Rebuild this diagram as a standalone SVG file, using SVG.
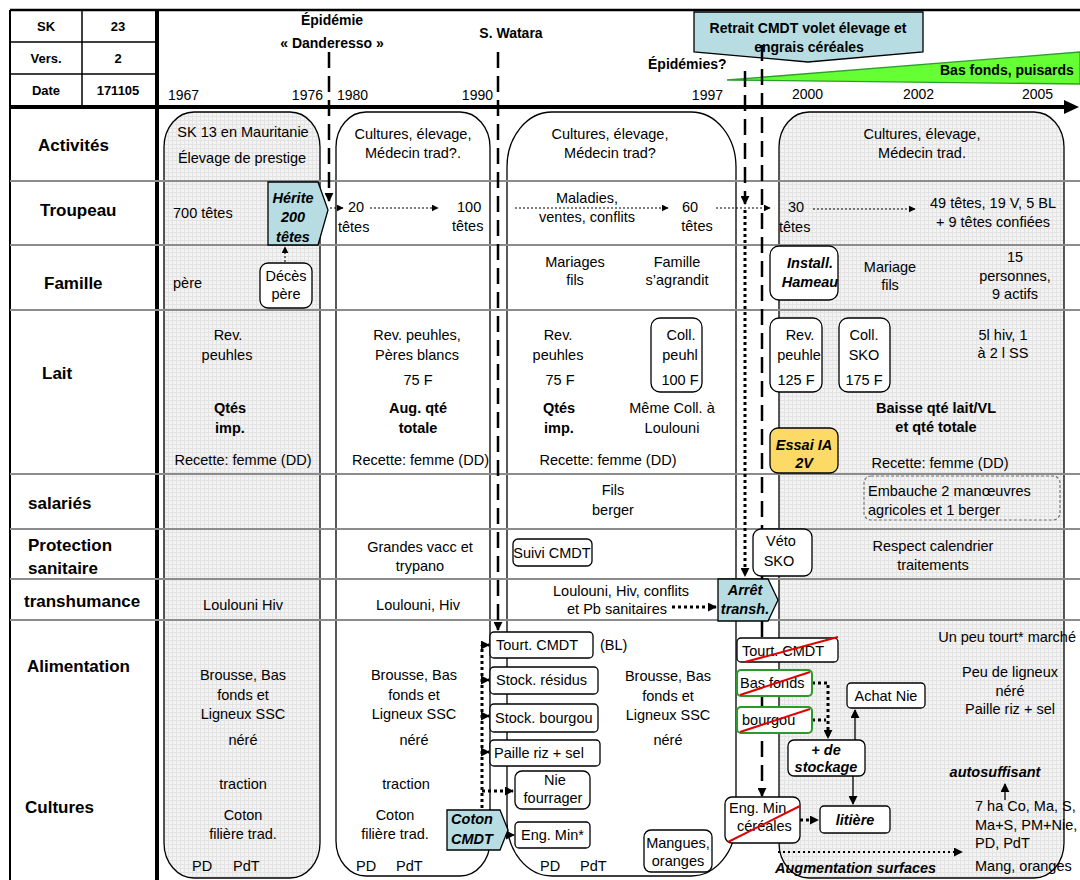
<svg xmlns="http://www.w3.org/2000/svg" width="1080" height="880" viewBox="0 0 1080 880">
<defs>
<style>
text{font-family:"Liberation Sans",Arial,sans-serif;font-size:14.5px;fill:#000}
.m{text-anchor:middle}
.e{text-anchor:end}
.b{font-weight:bold}
.bi{font-weight:bold;font-style:italic}
.lab{font-weight:bold;font-size:17px}
.hd{font-weight:bold;font-size:13px;text-anchor:middle}
.hb{font-weight:bold;font-size:14px}
.row{stroke:#8c8c8c;stroke-width:2}
.box{fill:#fff;stroke:#000;stroke-width:1.3}
.gbox{fill:#fff;stroke:#2a9a2a;stroke-width:2}
.blue{fill:#b7dde3;stroke:#000;stroke-width:1.3}
.dash{stroke:#000;stroke-width:2.5;stroke-dasharray:16 8;fill:none}
.dot{stroke:#000;stroke-width:3;stroke-dasharray:3 3;fill:none}
.fdot{stroke:#000;stroke-width:1;stroke-dasharray:2 2;fill:none}
.ln{stroke:#000;stroke-width:1.3;fill:none}
.red{stroke:#e00000;stroke-width:2}
.big{stroke:#000;stroke-width:1.3}
</style>
<pattern id="grid" width="4" height="4" patternUnits="userSpaceOnUse"><rect width="4" height="4" fill="#f3f3f3"/><path d="M0 0.5H4M0.5 0V4" stroke="#e3e3e3" stroke-width="1"/></pattern>
<marker id="ah" viewBox="0 0 10 10" refX="9" refY="5" markerWidth="9" markerHeight="9" markerUnits="userSpaceOnUse" orient="auto"><path d="M0 0L10 5L0 10z" fill="#000"/></marker>
<marker id="ahs" viewBox="0 0 10 10" refX="9" refY="5" markerWidth="7" markerHeight="7" markerUnits="userSpaceOnUse" orient="auto"><path d="M0 0L10 5L0 10z" fill="#000"/></marker>
</defs>

<g id="periods">
<rect x="164" y="112" width="156" height="766" rx="30" ry="35" fill="url(#grid)" class="big"/>
<rect x="336" y="112" width="154" height="764" rx="30" ry="35" fill="#fff" class="big"/>
<rect x="507" y="112" width="229" height="764" rx="45" ry="55" fill="#fff" class="big"/>
<rect x="779" y="112" width="285" height="766" rx="30" ry="35" fill="url(#grid)" class="big"/>
</g>

<g id="frame">
<line x1="10" y1="10" x2="1080" y2="10" stroke="#000" stroke-width="2.5"/>
<line x1="10" y1="10" x2="10" y2="880" stroke="#000" stroke-width="2"/>
<line x1="82" y1="10" x2="82" y2="107" stroke="#000" stroke-width="1.5"/>
<line x1="10" y1="42" x2="157" y2="42" stroke="#000" stroke-width="1.5"/>
<line x1="10" y1="74" x2="157" y2="74" stroke="#000" stroke-width="1.5"/>
<line x1="157" y1="10" x2="157" y2="880" stroke="#000" stroke-width="4"/>
<line x1="10" y1="107" x2="1066" y2="107" stroke="#000" stroke-width="4"/>
<polygon points="1064,100 1079,107 1064,114" fill="#000"/>
<line class="row" x1="10" y1="181" x2="1080" y2="181"/>
<line class="row" x1="10" y1="245" x2="1080" y2="245"/>
<line class="row" x1="10" y1="310" x2="1080" y2="310"/>
<line class="row" x1="10" y1="474" x2="1080" y2="474"/>
<line class="row" x1="10" y1="529" x2="1080" y2="529"/>
<line class="row" x1="10" y1="579" x2="1080" y2="579"/>
<line class="row" x1="10" y1="620" x2="1080" y2="620"/>
</g>

<g id="header">
<text class="hd" x="46" y="31">SK</text>
<text class="hd" x="118" y="31">23</text>
<text class="hd" x="46" y="63">Vers.</text>
<text class="hd" x="118" y="63">2</text>
<text class="hd" x="46" y="95">Date</text>
<text class="hd" x="118" y="95">171105</text>
<text x="168" y="100" style="font-size:14px">1967</text>
<text x="323" y="100" class="e" style="font-size:14px">1976</text>
<text x="337" y="100" style="font-size:14px">1980</text>
<text x="493" y="100" class="e" style="font-size:14px">1990</text>
<text x="723" y="100" class="e" style="font-size:14px">1997</text>
<text x="792" y="99" style="font-size:14px">2000</text>
<text x="903" y="99" style="font-size:14px">2002</text>
<text x="1022" y="99" style="font-size:14px">2005</text>
<text x="332" y="25" class="hb m">Épidémie</text>
<text x="332" y="48" class="hb m">« Danderesso »</text>
<text x="511" y="38" class="hb m">S. Watara</text>
<text x="648" y="69" class="hb">Épidémies?</text>
</g>

<g id="green-wedge">
<polygon points="727,80 1080,52 1080,84" fill="#66ff33" stroke="#2ca02c" stroke-width="1.3"/>
<text x="940" y="75" class="hb">Bas fonds, puisards</text>
</g>

<g id="callout-retrait">
<polygon points="694,12 923,12 923,52 808,62 694,52" class="blue"/>
<text x="808" y="33" class="hb m">Retrait CMDT volet élevage et</text>
<text x="809" y="52" class="hb m">engrais céréales</text>
</g>

<g id="labels">
<text class="lab" x="38" y="151">Activités</text>
<text class="lab" x="40" y="216">Troupeau</text>
<text class="lab" x="44" y="289">Famille</text>
<text class="lab" x="42" y="379">Lait</text>
<text class="lab" x="28" y="509">salariés</text>
<text class="lab" x="28" y="551">Protection</text>
<text class="lab" x="28" y="574">sanitaire</text>
<text class="lab" x="24" y="607">transhumance</text>
<text class="lab" x="27" y="672">Alimentation</text>
<text class="lab" x="25" y="813">Cultures</text>
</g>

<g id="connectors">
<path class="dash" d="M329 52V201" marker-end="url(#ah)"/>
<path class="dash" d="M498 52V630" marker-end="url(#ah)"/>
<path class="dash" d="M745 71V204" marker-end="url(#ah)"/>
<path class="dot" d="M745 210V576" marker-end="url(#ah)"/>
<path class="dash" d="M762 45V796" marker-end="url(#ah)"/>
<path class="fdot" d="M330 208H343" marker-end="url(#ahs)"/>
<path class="fdot" d="M370 208H438" marker-end="url(#ahs)"/>
<path class="fdot" d="M515 208H668" marker-end="url(#ahs)"/>
<path class="fdot" d="M716 208H770" marker-end="url(#ahs)"/>
<path class="fdot" d="M813 209H915" marker-end="url(#ahs)"/>
<path class="fdot" d="M285 262V247" marker-end="url(#ahs)"/>
<path class="dot" d="M672 607H716" marker-end="url(#ah)"/>
<path class="dot" d="M482 808V645"/>
<path class="dot" d="M482 645H489" marker-end="url(#ah)"/>
<path class="dot" d="M482 680H489" marker-end="url(#ah)"/>
<path class="dot" d="M482 716H489" marker-end="url(#ah)"/>
<path class="dot" d="M482 752H489" marker-end="url(#ah)"/>
<path class="dot" d="M482 791H513" marker-end="url(#ah)"/>
<path class="ln" d="M508 835H514" marker-end="url(#ah)"/>
<path class="dot" d="M812 683H828V738" marker-end="url(#ah)"/>
<path class="dot" d="M812 720H826"/>
<path class="ln" d="M855 740V710" marker-end="url(#ah)"/>
<path class="ln" d="M853 776V804" marker-end="url(#ah)"/>
<path class="dot" d="M800 820H818" marker-end="url(#ah)"/>
<path class="ln" d="M1005 800V784" marker-end="url(#ah)"/>
<path stroke="#000" stroke-width="2" stroke-dasharray="2 3" fill="none" d="M778 852H962" marker-end="url(#ah)"/>
</g>

<g id="period1">
<text class="m" x="243" y="137">SK 13 en Mauritanie</text>
<text class="m" x="242" y="163">Élevage de prestige</text>
<text x="173" y="218">700 têtes</text>
<text x="173" y="288">père</text>
<text class="m" x="228" y="340">Rev.</text>
<text class="m" x="227" y="360">peuhles</text>
<text class="m b" x="230" y="413">Qtés</text>
<text class="m b" x="230" y="433">imp.</text>
<text class="m" x="243" y="465">Recette: femme (DD)</text>
<text class="m" x="243" y="610">Loulouni Hiv</text>
<text class="m" x="243" y="680">Brousse, Bas</text>
<text class="m" x="243" y="700">fonds et</text>
<text class="m" x="243" y="719">Ligneux SSC</text>
<text class="m" x="243" y="745">néré</text>
<text class="m" x="243" y="789">traction</text>
<text class="m" x="243" y="820">Coton</text>
<text class="m" x="243" y="839">filière trad.</text>
<text x="192" y="871">PD</text>
<text x="233" y="871">PdT</text>
</g>

<g id="herite">
<polygon points="268,182 318,182 328,210 318,245 268,245" class="blue"/>
<text class="m bi" x="293" y="203">Hérite</text>
<text class="m bi" x="293" y="222">200</text>
<text class="m bi" x="293" y="242">têtes</text>
</g>
<g id="deces">
<rect x="260" y="263" width="52" height="45" rx="8" class="box"/>
<text class="m" x="286" y="281">Décès</text>
<text class="m" x="286" y="299">père</text>
</g>

<g id="period2">
<text class="m" x="413" y="139">Cultures, élevage,</text>
<text class="m" x="413" y="158">Médecin trad?.</text>
<text x="348" y="212">20</text>
<text x="338" y="232">têtes</text>
<text x="457" y="212">100</text>
<text x="452" y="231">têtes</text>
<text class="m" x="417" y="340">Rev. peuhles,</text>
<text class="m" x="417" y="360">Pères blancs</text>
<text class="m" x="418" y="385">75 F</text>
<text class="m b" x="418" y="413">Aug. qté</text>
<text class="m b" x="418" y="433">totale</text>
<text x="352" y="465">Recette: femme (DD)</text>
<text class="m" x="420" y="552">Grandes vacc et</text>
<text class="m" x="420" y="571">trypano</text>
<text class="m" x="418" y="610">Loulouni, Hiv</text>
<text class="m" x="414" y="680">Brousse, Bas</text>
<text class="m" x="414" y="700">fonds et</text>
<text class="m" x="414" y="719">Ligneux SSC</text>
<text class="m" x="414" y="745">néré</text>
<text class="m" x="406" y="789">traction</text>
<text class="m" x="395" y="820">Coton</text>
<text class="m" x="395" y="839">filière trad.</text>
<text x="356" y="871">PD</text>
<text x="396" y="871">PdT</text>
</g>

<g id="period3">
<text class="m" x="610" y="139">Cultures, élevage,</text>
<text class="m" x="610" y="158">Médecin trad?</text>
<text class="m" x="587" y="203">Maladies,</text>
<text class="m" x="587" y="222">ventes, conflits</text>
<text class="m" x="690" y="212">60</text>
<text class="m" x="697" y="231">têtes</text>
<text class="m" x="575" y="267">Mariages</text>
<text class="m" x="575" y="285">fils</text>
<text class="m" x="677" y="267">Famille</text>
<text class="m" x="677" y="285">s’agrandit</text>
<text class="m" x="558" y="340">Rev.</text>
<text class="m" x="558" y="360">peuhles</text>
<text class="m" x="560" y="385">75 F</text>
<text class="m b" x="559" y="413">Qtés</text>
<text class="m b" x="559" y="433">imp.</text>
<text class="m" x="672" y="413">Même Coll. à</text>
<text class="m" x="672" y="433">Loulouni</text>
<text class="m" x="608" y="465">Recette: femme (DD)</text>
<text class="m" x="613" y="495">Fils</text>
<text class="m" x="613" y="515">berger</text>
<text class="m" x="621" y="596">Loulouni, Hiv, conflits</text>
<text class="m" x="617" y="614">et Pb sanitaires</text>
<text x="600" y="650">(BL)</text>
<text class="m" x="668" y="681">Brousse, Bas</text>
<text class="m" x="668" y="701">fonds et</text>
<text class="m" x="668" y="720">Ligneux SSC</text>
<text class="m" x="668" y="745">néré</text>
<text x="540" y="871">PD</text>
<text x="580" y="871">PdT</text>
</g>

<g id="coll-peuhl">
<rect x="651" y="318" width="51" height="74" rx="9" class="box"/>
<text class="m" x="681" y="340">Coll.</text>
<text class="m" x="680" y="360">peuhl</text>
<text class="m" x="680" y="385">100 F</text>
</g>
<g id="suivi-cmdt">
<rect x="513" y="539" width="79" height="27" rx="5" class="box"/>
<text class="m" x="552" y="558">Suivi CMDT</text>
</g>
<g id="tourt-cmdt">
<rect x="490" y="632" width="103" height="26" rx="4" class="box"/>
<text x="496" y="650">Tourt. CMDT</text>
</g>
<g id="stock-residus">
<rect x="490" y="667" width="108" height="27" rx="4" class="box"/>
<text x="496" y="685">Stock. résidus</text>
</g>
<g id="stock-bourgou">
<rect x="490" y="704" width="108" height="28" rx="4" class="box"/>
<text x="495" y="723">Stock. bourgou</text>
</g>
<g id="paille">
<rect x="490" y="740" width="110" height="26" rx="4" class="box"/>
<text x="494" y="758">Paille riz + sel</text>
</g>
<g id="nie-fourrager">
<rect x="515" y="771" width="75" height="38" rx="7" class="box"/>
<text class="m" x="555" y="785">Nie</text>
<text class="m" x="553" y="803">fourrager</text>
</g>
<g id="eng-min">
<rect x="515" y="822" width="75" height="26" rx="4" class="box"/>
<text x="521" y="840">Eng. Min*</text>
</g>
<g id="coton-cmdt">
<polygon points="447,810 500,810 508,830 500,850 447,850" class="blue"/>
<text class="m bi" x="472" y="824">Coton</text>
<text class="m bi" x="472" y="844">CMDT</text>
</g>
<g id="mangues">
<rect x="644" y="830" width="68" height="42" rx="7" class="box"/>
<text class="m" x="678" y="848">Mangues,</text>
<text class="m" x="678" y="866">oranges</text>
</g>
<g id="arret-transh">
<polygon points="718,579 768,579 778,600 768,621 718,621" class="blue"/>
<text class="m bi" x="745" y="595">Arrêt</text>
<text class="m bi" x="745" y="614">transh.</text>
</g>

<g id="period4">
<text class="m" x="922" y="139">Cultures, élevage,</text>
<text class="m" x="922" y="158">Médecin trad.</text>
<text x="788" y="212">30</text>
<text x="779" y="232">têtes</text>
<text class="m" x="993" y="208">49 têtes, 19 V, 5 BL</text>
<text class="m" x="993" y="227">+ 9 têtes confiées</text>
<text class="m" x="890" y="272">Mariage</text>
<text class="m" x="890" y="290">fils</text>
<text class="m" x="1015" y="262">15</text>
<text class="m" x="1015" y="281">personnes,</text>
<text class="m" x="1015" y="299">9 actifs</text>
<text class="m" x="1003" y="340">5l hiv, 1</text>
<text class="m" x="1003" y="358">à 2 l SS</text>
<text class="m b" x="936" y="413">Baisse qté lait/VL</text>
<text class="m b" x="936" y="432">et qté totale</text>
<text class="m" x="940" y="468">Recette: femme (DD)</text>
<text class="m" x="933" y="551">Respect calendrier</text>
<text class="m" x="933" y="570">traitements</text>
<text class="e" x="1076" y="642">Un peu tourt* marché</text>
<text class="m" x="1010" y="677">Peu de ligneux</text>
<text class="m" x="1010" y="696">néré</text>
<text class="m" x="1010" y="714">Paille riz + sel</text>
<text class="m bi" x="995" y="777">autosuffisant</text>
<text x="975" y="811">7 ha Co, Ma, S,</text>
<text x="975" y="830">Ma+S, PM+Nie,</text>
<text x="975" y="848">PD, PdT</text>
<text x="975" y="871">Mang, oranges</text>
<text class="bi" x="775" y="873">Augmentation surfaces</text>
</g>

<g id="install-hameau">
<rect x="770" y="246" width="68" height="54" rx="9" class="box"/>
<text class="m bi" x="810" y="268">Install.</text>
<text class="m bi" x="810" y="287">Hameau</text>
</g>
<g id="rev-peuhle">
<rect x="770" y="318" width="52" height="74" rx="9" class="box"/>
<text class="m" x="800" y="340">Rev.</text>
<text class="m" x="799" y="360">peuhle</text>
<text class="m" x="796" y="385">125 F</text>
</g>
<g id="coll-sko">
<rect x="839" y="318" width="51" height="74" rx="9" class="box"/>
<text class="m" x="864" y="340">Coll.</text>
<text class="m" x="864" y="360">SKO</text>
<text class="m" x="864" y="385">175 F</text>
</g>
<g id="essai-ia">
<rect x="770" y="428" width="68" height="45" rx="8" fill="#fdd966" stroke="#000" stroke-width="1.3"/>
<text class="m bi" x="804" y="450">Essai IA</text>
<text class="m bi" x="804" y="468">2V</text>
</g>
<g id="embauche">
<rect x="864" y="476" width="196" height="44" rx="7" fill="none" stroke="#777" stroke-width="1.2" stroke-dasharray="3 2"/>
<text x="868" y="496">Embauche 2 manœuvres</text>
<text x="868" y="515">agricoles et 1 berger</text>
</g>
<g id="veto-sko">
<rect x="753" y="529" width="59" height="47" rx="8" class="box"/>
<text class="m" x="781" y="546">Véto</text>
<text class="m" x="779" y="566">SKO</text>
</g>
<g id="tourt-cmdt-2000">
<rect x="737" y="638" width="101" height="24" rx="4" class="box"/>
<text x="742" y="656">Tourt. CMDT</text>
<line class="red" x1="745" y1="662" x2="838" y2="637"/>
</g>
<g id="bas-fonds">
<rect x="737" y="670" width="75" height="26" rx="4" class="gbox"/>
<text x="740" y="688">Bas fonds</text>
<line class="red" x1="740" y1="695" x2="810" y2="672"/>
</g>
<g id="bourgou">
<rect x="737" y="707" width="75" height="26" rx="4" class="gbox"/>
<text x="742" y="725">bourgou</text>
<line class="red" x1="740" y1="732" x2="810" y2="709"/>
</g>
<g id="achat-nie">
<rect x="847" y="683" width="78" height="25" rx="4" class="box"/>
<text class="m" x="886" y="701">Achat Nie</text>
</g>
<g id="plus-stockage">
<rect x="788" y="740" width="77" height="36" rx="6" class="box"/>
<text class="m bi" x="826" y="755">+ de</text>
<text class="m bi" x="826" y="772">stockage</text>
</g>
<g id="litiere">
<rect x="820" y="806" width="70" height="27" rx="4" class="box"/>
<text class="m bi" x="855" y="825">litière</text>
</g>
<g id="eng-min-cereales">
<rect x="725" y="797" width="75" height="46" rx="7" class="box"/>
<text x="729" y="813">Eng. Min</text>
<text x="737" y="831">céréales</text>
<line class="red" x1="728" y1="842" x2="800" y2="806"/>
</g>
</svg>
